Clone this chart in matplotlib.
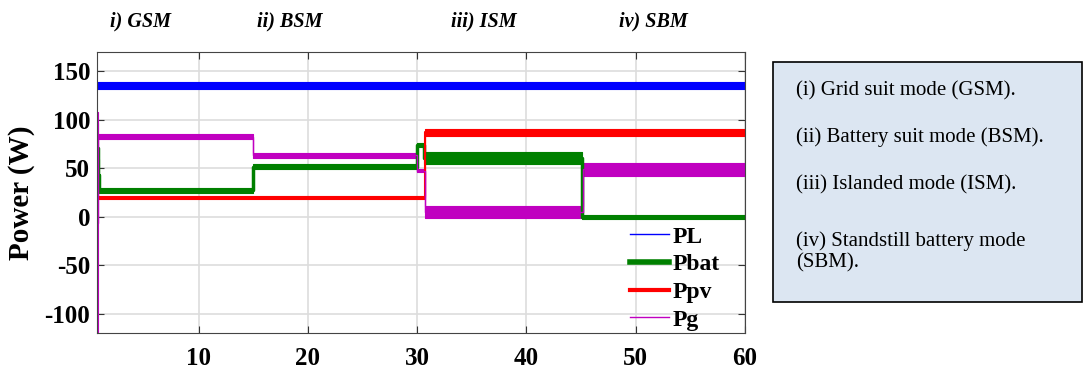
import numpy as np
import matplotlib.pyplot as plt
from matplotlib.lines import Line2D
from matplotlib.patches import Rectangle

plt.rcParams['font.family'] = ['Liberation Serif', 'DejaVu Serif']
plt.rcParams['axes.unicode_minus'] = False

# time breakpoints (s) and the low/high edge of each noisy trace (W)
t_pl = [0.68, 60.0]
pl_lo = [131.7, 131.7]
pl_hi = [139.5, 139.5]

t_bat = [0.68, 0.8, 0.9, 15.0, 30.0, 30.65, 45.1, 60.0]
bat_lo = [45.0, 27.0, 25.0, 49.0, 72.0, 54.5, -2.0, -2.0]
bat_hi = [97.0, 60.0, 30.0, 54.0, 76.0, 66.5, 1.5, 1.5]

t_pv = [0.68, 0.8, 30.7, 60.0]
pv_lo = [18.0, 18.2, 83.5, 83.5]
pv_hi = [40.0, 21.5, 91.0, 91.0]

t_g = [0.68, 0.75, 15.0, 30.0, 30.75, 45.2, 60.0]
g_lo = [-120.0, 80.0, 61.0, 46.0, -1.0, 42.6, 42.6]
g_hi = [108.0, 85.2, 66.0, 49.0, 11.0, 56.0, 56.0]

names = ['PL', 'Pbat', 'Ppv', 'Pg']
colors = ['#0000ff', '#008000', '#ff0000', '#c000c0']
mid_lw = [1.0, 2.5, 1.5, 1.0]
leg_lw = [1.0, 4.0, 3.0, 1.0]

modes = ['i) GSM', 'ii) BSM', 'iii) ISM', 'iv) SBM']
mode_x = [0.1296, 0.2673, 0.446, 0.603]

box_lines = ['(i) Grid suit mode (GSM).',
             '(ii) Battery suit mode (BSM).',
             '(iii) Islanded mode (ISM).',
             '(iv) Standstill battery mode',
             '(SBM).']
box_y = [0.759, 0.635, 0.507, 0.356, 0.300]

fig = plt.figure(figsize=(10.84, 3.75), dpi=100)
ax = fig.add_axes([0.0895, 0.112, 0.5975, 0.749])

series = [(t_pl, pl_lo, pl_hi), (t_bat, bat_lo, bat_hi),
          (t_pv, pv_lo, pv_hi), (t_g, g_lo, g_hi)]
for (t, lo, hi), c, lw in zip(series, colors, mid_lw):
    lo = np.array(lo)
    hi = np.array(hi)
    ax.fill_between(t, lo, hi, step='post', color=c, lw=0.8)
    ax.plot(t, (lo + hi) / 2, drawstyle='steps-post', color=c, lw=lw)

ax.set_xlim(0.68, 60)
ax.set_ylim(-120, 170)
ax.set_xticks([10, 20, 30, 40, 50, 60])
ax.set_yticks([-100, -50, 0, 50, 100, 150])
ax.grid(True, color='#dddddd', lw=1.2)
ax.set_axisbelow(True)
ax.tick_params(direction='in', top=True, right=True, length=5,
               labelsize=18, color='#333333')
ax.tick_params(axis='x', pad=10)
ax.tick_params(axis='y', pad=5)
for lab in ax.get_xticklabels() + ax.get_yticklabels():
    lab.set_fontweight('bold')
for sp in ax.spines.values():
    sp.set_color('#444444')
    sp.set_linewidth(0.8)
ax.set_ylabel('Power (W)', fontsize=21, fontweight='bold')
ax.yaxis.set_label_coords(-0.096, 0.5)

handles = [Line2D([], [], color=c, lw=w) for c, w in zip(colors, leg_lw)]
leg = ax.legend(handles, names, loc='lower left', bbox_to_anchor=(0.819, 0.0),
                frameon=False, handlelength=1.65, handletextpad=0.15,
                labelspacing=0.26, borderpad=0.0, borderaxespad=0.1,
                prop={'size': 17, 'weight': 'bold'})

for m, x in zip(modes, mode_x):
    fig.text(x, 0.944, m, ha='center', va='center', fontsize=14.5,
             fontweight='bold', fontstyle='italic')

fig.patches.append(Rectangle((0.713, 0.195), 0.285, 0.64, transform=fig.transFigure,
                             facecolor='#dce6f2', edgecolor='black', lw=1.2))
for s, y in zip(box_lines, box_y):
    fig.text(0.734, y, s, ha='left', va='center', fontsize=15)

fig.savefig('out.png', dpi=100)
